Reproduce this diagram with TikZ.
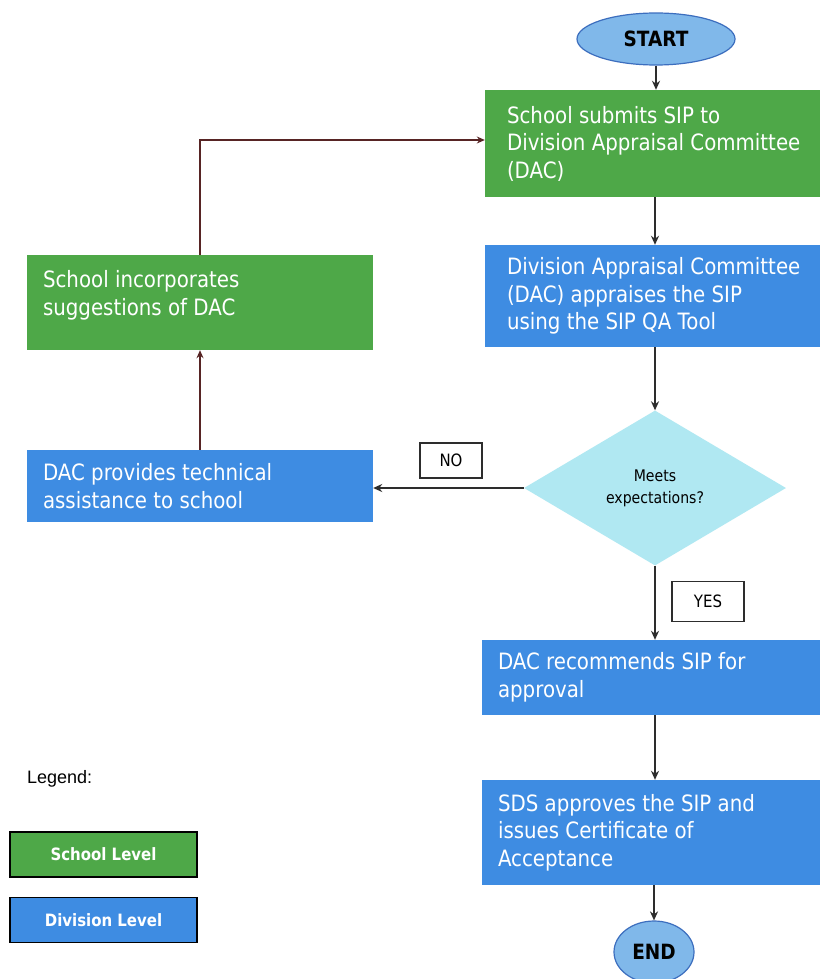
\documentclass[tikz,border=0pt]{standalone}
\usepackage{fontspec}
\setmainfont{Liberation Sans}
\newfontfamily\tah[FakeStretch=0.88]{DejaVu Sans}
\usetikzlibrary{arrows.meta,shapes.geometric}
\definecolor{sgreen}{RGB}{78,168,72}
\definecolor{dblue}{RGB}{62,140,226}
\definecolor{ellfill}{RGB}{128,184,234}
\definecolor{elldraw}{RGB}{60,110,190}
\definecolor{diafill}{RGB}{176,232,242}
\definecolor{arr}{RGB}{45,45,45}
\tikzset{
  gbox/.style={rectangle, fill=sgreen, draw=none, inner sep=0pt},
  bbox/.style={rectangle, fill=dblue, draw=none, inner sep=0pt},
  btext/.style={anchor=west, inner sep=0pt, text=white, align=left, font=\tah\fontsize{22.5}{27.5}\selectfont},
  term/.style={ellipse, fill=ellfill, draw=elldraw, line width=1.2pt, inner sep=0pt, font=\tah\bfseries\fontsize{21}{24}\selectfont, text={RGB:red,25;green,30;blue,60}},
  lab/.style={rectangle, draw=arr, line width=1.2pt, fill=white, inner sep=0pt, font=\tah\fontsize{17}{20}\selectfont, text=black},
  conn/.style={draw=arr, line width=2pt, -{Stealth[length=9pt,width=8pt]}},
  thin/.style={draw=arr!80!red, line width=1.3pt, -{Stealth[length=8pt,width=7pt]}},
  legbox/.style={rectangle, draw={RGB:red,40;green,40;blue,40}, line width=1.5pt, inner sep=0pt, minimum width=187pt, minimum height=45pt, text=white, font=\tah\bfseries\fontsize{17}{20}\selectfont}
}
\begin{document}
\begin{tikzpicture}[x=1pt,y=-1pt]
\useasboundingbox (0,0) rectangle (820,979);
\fill[white] (0,0) rectangle (820,979);

% terminators
\node[term, minimum width=158pt, minimum height=52pt] (start) at (656,39) {START};
\node[term, minimum width=80pt, minimum height=62pt] (end) at (654,952) {END};

% right column boxes
\node[gbox, minimum width=335pt, minimum height=107pt] (b1) at (652.5,143.5) {};
\node[btext] (b1t) at ([xshift=22pt]b1.west) {School submits SIP to\\Division Appraisal Committee\\(DAC)};

\node[bbox, minimum width=335pt, minimum height=102pt] (b2) at (652.5,296) {};
\node[btext] (b2t) at ([xshift=22pt]b2.west) {Division Appraisal Committee\\(DAC) appraises the SIP\\using the SIP QA Tool};

\node[diamond, fill=diafill, draw=none, minimum width=262pt, minimum height=155pt, inner sep=0pt, font=\tah\fontsize{16}{22}\selectfont, text={RGB:red,40;green,50;blue,70}, align=center] (d) at (655,488) {Meets\\expectations?};

\node[bbox, minimum width=338pt, minimum height=75pt] (b4) at (651,677.5) {};
\node[btext] (b4t) at ([xshift=16pt]b4.west) {DAC recommends SIP for\\approval};

\node[bbox, minimum width=338pt, minimum height=105pt] (b5) at (651,832.5) {};
\node[btext] (b5t) at ([xshift=16pt]b5.west) {SDS approves the SIP and\\issues Certificate of\\Acceptance};

% left column boxes
\node[gbox, minimum width=346pt, minimum height=95pt] (l1) at (200,302.5) {};
\node[btext] (l1t) at ([xshift=16pt,yshift=7pt]l1.west) {School incorporates\\suggestions of DAC};

\node[bbox, minimum width=346pt, minimum height=72pt] (l2) at (200,486) {};
\node[btext] (l2t) at ([xshift=16pt]l2.west) {DAC provides technical\\assistance to school};

% labels
\node[lab, minimum width=62pt, minimum height=35pt] (no) at (451,460.5) {NO};
\node[lab, minimum width=72pt, minimum height=40pt] (yes) at (708,601.5) {YES};

% connectors
\draw[conn] (start.south) -- (b1.north -| start.south);
\draw[conn] (b1.south -| 655,0) -- (b2.north -| 655,0);
\draw[conn] (b2.south -| 655,0) -- (d.north);
\draw[conn] (d.west) -- (l2.east |- d.west);
\draw[conn] (d.south) -- (b4.north -| d.south);
\draw[conn] (b4.south -| 655,0) -- (b5.north -| 655,0);
\draw[conn] (b5.south -| end.north) -- (end.north);
\draw[thin] (l2.north) -- (l1.south);
\draw[thin] (l1.north) |- (b1.west |- 0,140);

% legend
\node[anchor=west, inner sep=0pt, font=\fontsize{18}{21}\selectfont, text={RGB:red,50;green,50;blue,60}] (leg) at (27,779) {Legend:};
\node[legbox, fill=sgreen] (ls) at (103.5,854.5) {School Level};
\node[legbox, fill=dblue] (ld) at (103.5,920) {Division Level};
\end{tikzpicture}
\end{document}
